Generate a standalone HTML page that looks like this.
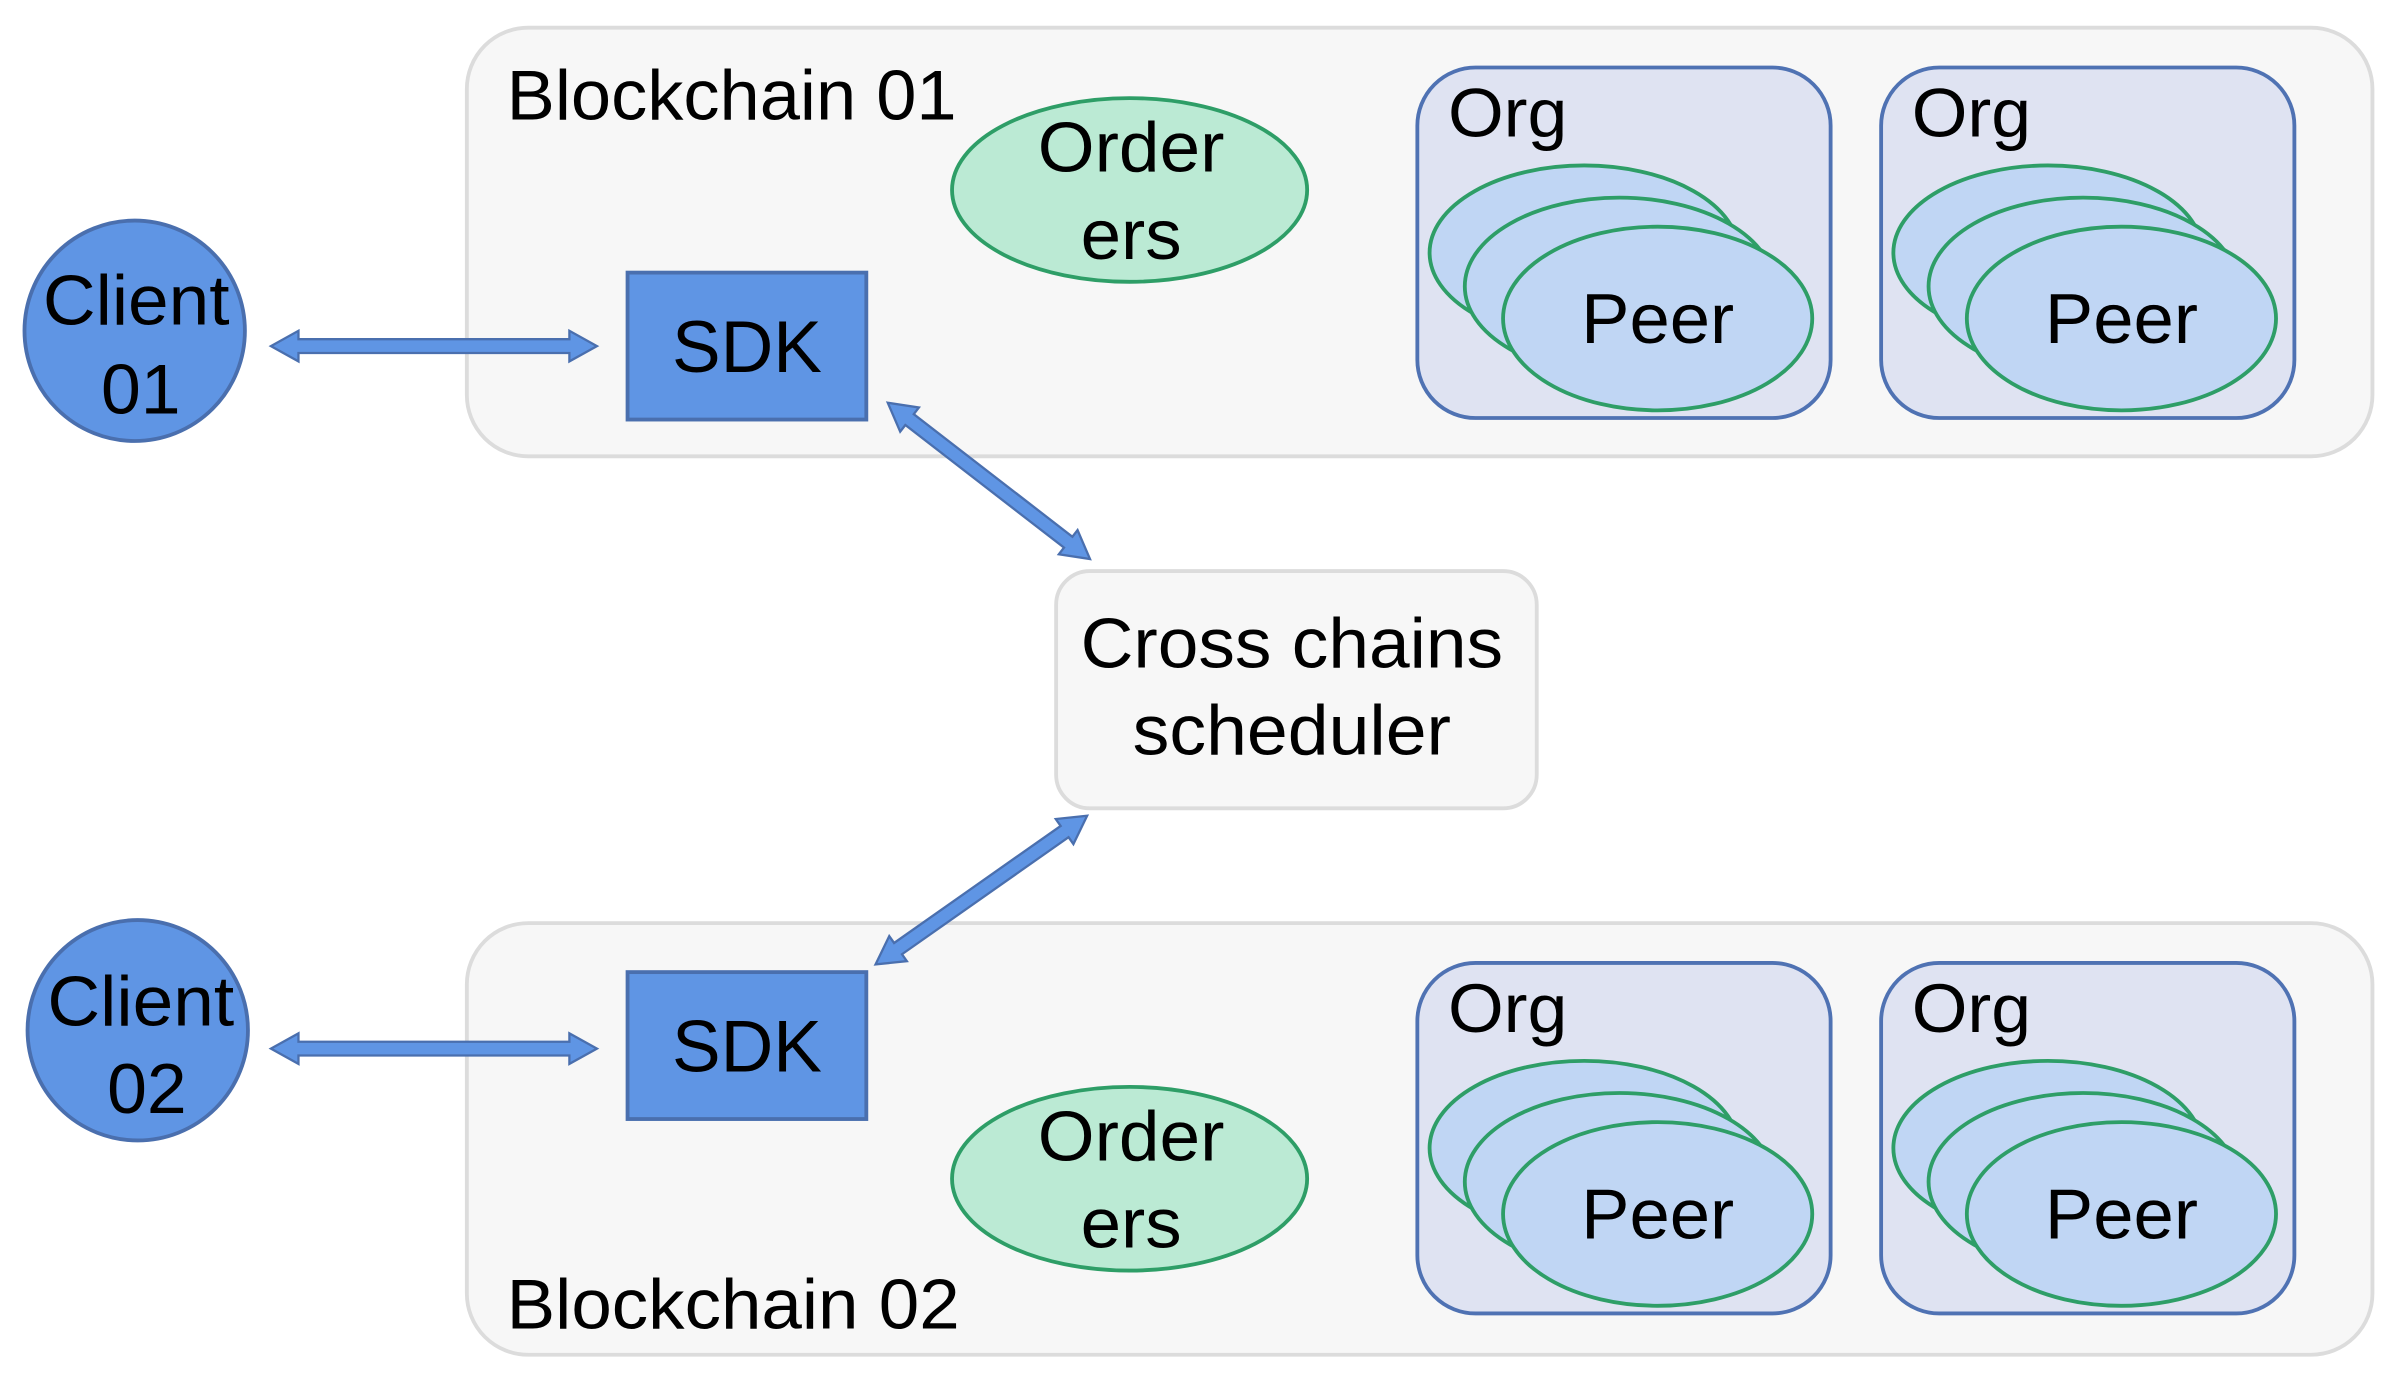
<!DOCTYPE html>
<html><head><meta charset="utf-8"><style>
html,body{margin:0;padding:0;background:#fff;}
svg{display:block;}
text{font-family:"Liberation Sans",Arial,sans-serif;fill:#000;}
</style></head><body>
<svg width="2400" height="1384" viewBox="0 0 1568 904" xmlns="http://www.w3.org/2000/svg">
<defs>
<g id="peers">
<ellipse cx="1035" cy="165" rx="101" ry="57" fill="#c0d6f4" stroke="#2e9e67" stroke-width="2.5"/>
<ellipse cx="1058" cy="187" rx="101" ry="58" fill="#c0d6f4" stroke="#2e9e67" stroke-width="2.5"/>
<ellipse cx="1083" cy="208" rx="101" ry="60" fill="#c0d6f4" stroke="#2e9e67" stroke-width="2.5"/>
<text x="1033" y="224" font-size="46" textLength="100" lengthAdjust="spacingAndGlyphs">Peer</text>
</g>
<g id="org">
<rect x="926" y="44" width="270" height="229" rx="38" fill="#dfe3f2" stroke="#4f72b3" stroke-width="2.5"/>
<text x="946" y="89" font-size="45" textLength="78" lengthAdjust="spacingAndGlyphs">Org</text>
<use href="#peers"/>
</g>
</defs>

<rect x="305" y="18" width="1245" height="280" rx="40" fill="#f7f7f7" stroke="#dcdcdc" stroke-width="2.5"/>
<rect x="305" y="603" width="1245" height="282" rx="40" fill="#f7f7f7" stroke="#dcdcdc" stroke-width="2.5"/>
<text x="331" y="78" font-size="46" textLength="294" lengthAdjust="spacingAndGlyphs">Blockchain 01</text>
<text x="331" y="868" font-size="46" textLength="296" lengthAdjust="spacingAndGlyphs">Blockchain 02</text>

<use href="#org"/>
<use href="#org" transform="translate(303,0)"/>
<use href="#org" transform="translate(0,585)"/>
<use href="#org" transform="translate(303,585)"/>

<ellipse cx="738" cy="124" rx="116" ry="60" fill="#bbead4" stroke="#2e9e67" stroke-width="2.5"/>
<text x="678" y="112" font-size="46" textLength="122" lengthAdjust="spacingAndGlyphs">Order</text>
<text x="706" y="169" font-size="46" textLength="66" lengthAdjust="spacingAndGlyphs">ers</text>
<ellipse cx="738" cy="770" rx="116" ry="60" fill="#bbead4" stroke="#2e9e67" stroke-width="2.5"/>
<text x="678" y="758" font-size="46" textLength="122" lengthAdjust="spacingAndGlyphs">Order</text>
<text x="706" y="815" font-size="46" textLength="66" lengthAdjust="spacingAndGlyphs">ers</text>

<rect x="410" y="178" width="156" height="96" fill="#5f95e4" stroke="#4a6fae" stroke-width="2.5"/>
<text x="439" y="243" font-size="48" textLength="98" lengthAdjust="spacingAndGlyphs">SDK</text>
<rect x="410" y="635" width="156" height="96" fill="#5f95e4" stroke="#4a6fae" stroke-width="2.5"/>
<text x="439" y="700" font-size="48" textLength="98" lengthAdjust="spacingAndGlyphs">SDK</text>

<circle cx="88" cy="216" r="72" fill="#5f95e4" stroke="#4a6fae" stroke-width="2.5"/>
<text x="28" y="212" font-size="46" textLength="122" lengthAdjust="spacingAndGlyphs">Client</text>
<text x="66" y="270" font-size="46" textLength="52" lengthAdjust="spacingAndGlyphs">01</text>
<circle cx="90" cy="673" r="72" fill="#5f95e4" stroke="#4a6fae" stroke-width="2.5"/>
<text x="31" y="670" font-size="46" textLength="122" lengthAdjust="spacingAndGlyphs">Client</text>
<text x="70" y="727" font-size="46" textLength="52" lengthAdjust="spacingAndGlyphs">02</text>

<rect x="690" y="373" width="314" height="155" rx="22" fill="#f7f7f7" stroke="#dcdcdc" stroke-width="2.5"/>
<text x="706" y="436" font-size="46" textLength="276" lengthAdjust="spacingAndGlyphs">Cross chains</text>
<text x="740" y="493" font-size="46" textLength="208" lengthAdjust="spacingAndGlyphs">scheduler</text>

<g fill="#5f95e4" stroke="#4a6fae" stroke-width="1.5">
<polygon points="177,226 195,216 195,221.5 372,221.5 372,216 390,226 372,236 372,230.5 195,230.5 195,236"/>
<polygon points="177,685 195,675 195,680.5 372,680.5 372,675 390,685 372,695 372,689.5 195,689.5 195,695"/>
<g transform="translate(580,263) rotate(37.7)">
<polygon points="0,0 18,-10 18,-4.5 149,-4.5 149,-10 167,0 149,10 149,4.5 18,4.5 18,10"/>
</g>
<g transform="translate(572,630) rotate(-35.1)">
<polygon points="0,0 18,-10 18,-4.5 151,-4.5 151,-10 169,0 151,10 151,4.5 18,4.5 18,10"/>
</g>
</g>
</svg>
</body></html>
